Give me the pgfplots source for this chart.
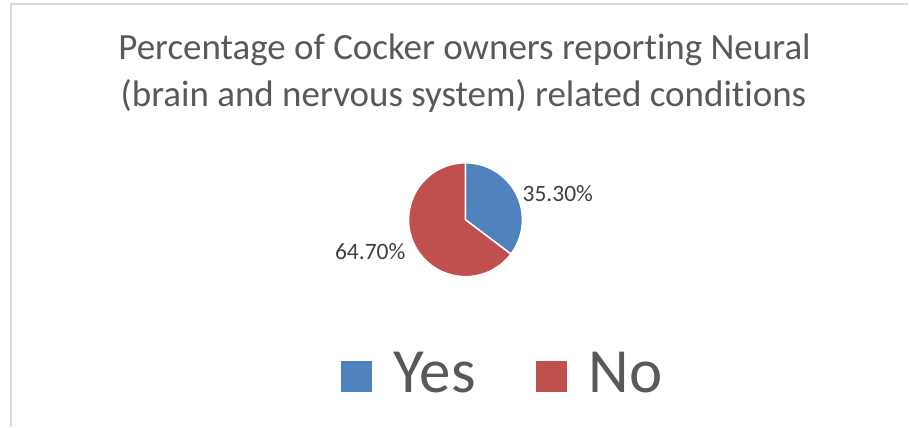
\documentclass[border=0pt]{standalone}
\usepackage{fontspec}
\setmainfont{Carlito}[Ligatures=NoCommon]
\usepackage{pgfplots}
\usepackage{pgfplotstable}
\pgfplotsset{compat=1.18}
\definecolor{yesblue}{HTML}{4F81BD}
\definecolor{nored}{HTML}{C0504D}
\definecolor{titlegray}{HTML}{595959}
\definecolor{labelgray}{HTML}{404040}
\definecolor{framegray}{HTML}{D9D9D9}
\pgfplotstableread{
label value
Yes 35.3
No 64.7
}\piedata
\begin{document}
\begin{tikzpicture}
\pgfplotstablegetelem{0}{value}\of\piedata \let\vyes\pgfplotsretval
\pgfplotstablegetelem{1}{value}\of\piedata \let\vno\pgfplotsretval
\pgfmathsetmacro\endyes{90-3.6*\vyes}
\pgfmathsetmacro\endno{\endyes-3.6*\vno}
\begin{axis}[hide axis, scale only axis, width=909pt, height=427pt,
  xmin=0, xmax=909, ymin=0, ymax=427, clip=false,
  /pgf/number format/assume math mode=true]
\path (axis cs:0,0) rectangle (axis cs:909,427);
\draw[framegray, line width=2pt] (axis cs:11,0) -- (axis cs:11,422.5) -- (axis cs:909,422.5);
% title
\node[anchor=base, inner sep=0, text=titlegray, font=\fontsize{37}{45}\selectfont] at (axis cs:465,367) {Percentage of Cocker owners reporting Neural};
\node[anchor=base, inner sep=0, text=titlegray, font=\fontsize{37}{45}\selectfont] at (axis cs:464,320) {(brain and nervous system) related conditions};
% pie
\filldraw[fill=yesblue, draw=white, line width=1.5pt] (axis cs:466,207) -- ++(90:57pt) arc[start angle=90, end angle=\endyes, radius=57pt] -- cycle;
\filldraw[fill=nored, draw=white, line width=1.5pt] (axis cs:466,207) -- ++(\endyes:57pt) arc[start angle=\endyes, end angle=\endno, radius=57pt] -- cycle;
% data labels
\node[anchor=base west, inner sep=0, text=labelgray, font=\fontsize{23.5}{28}\selectfont] at (axis cs:523,225) {\pgfmathprintnumber[fixed, fixed zerofill, precision=2, assume math mode=true]{\vyes}\%};
\node[anchor=base east, inner sep=0, text=labelgray, font=\fontsize{23.5}{28}\selectfont] at (axis cs:406,167) {\pgfmathprintnumber[fixed, fixed zerofill, precision=2, assume math mode=true]{\vno}\%};
% legend
\fill[yesblue] (axis cs:341,35) rectangle (axis cs:372,66);
\node[anchor=base west, inner sep=0, text=titlegray, font=\fontsize{63}{72}\selectfont] at (axis cs:394,34) {Yes};
\fill[nored] (axis cs:537,35) rectangle (axis cs:568,66);
\node[anchor=base west, inner sep=0, text=titlegray, font=\fontsize{63}{72}\selectfont] at (axis cs:589,34) {No};
\end{axis}
\end{tikzpicture}
\end{document}
